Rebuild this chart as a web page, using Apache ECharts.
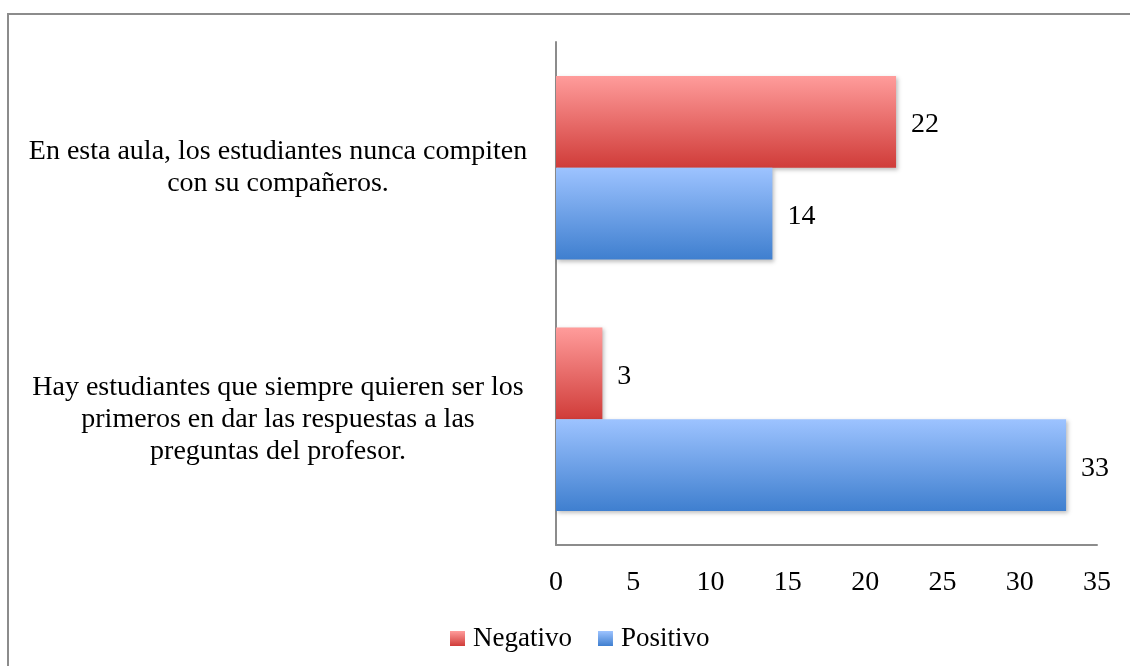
<!DOCTYPE html>
<html>
<head>
<meta charset="utf-8">
<script src="https://cdn.jsdelivr.net/npm/echarts@6/dist/echarts.min.js"></script>
<style>
  html, body { margin: 0; padding: 0; background: #fff; }
  #chart { width: 1130px; height: 666px; }
</style>
</head>
<body>
<div id="chart"></div>
<script>
// categories, bottom to top
const categories = [
    'Hay estudiantes que siempre quieren ser los\nprimeros en dar las respuestas a las\npreguntas del profesor.',
    'En esta aula, los estudiantes nunca compiten\ncon su compañeros.'
];
const seriesNames = ['Negativo', 'Positivo'];
const negativo = [3, 22];
const positivo = [33, 14];

const FONT = '"Liberation Serif", serif';

function grad(top, bottom) {
    return new echarts.graphic.LinearGradient(0, 0, 0, 1, [
        { offset: 0, color: top },
        { offset: 1, color: bottom }
    ]);
}

const chart = echarts.init(document.getElementById('chart'));

const barStyle = {
    shadowColor: 'rgba(0,0,0,0.25)',
    shadowBlur: 4,
    shadowOffsetX: 2,
    shadowOffsetY: 2
};

const valueLabel = {
    show: true, position: 'right', distance: 15, offset: [0, 3],
    fontFamily: FONT, fontSize: 28, color: '#000'
};

const option = {
    animation: false,
    backgroundColor: '#fff',
    textStyle: { fontFamily: FONT, color: '#000' },
    graphic: [{
        type: 'rect',
        shape: { x: 8, y: 14, width: 1200, height: 800 },
        style: { fill: 'none', stroke: '#8c8c8c', lineWidth: 2 }
    }],
    grid: { left: 556, right: 33, top: 42, bottom: 121 },
    legend: {
        data: seriesNames,
        left: 445,
        top: 620,
        icon: 'rect',
        itemWidth: 15,
        itemHeight: 15,
        itemGap: 26,
        textStyle: { fontFamily: FONT, fontSize: 27, color: '#000', padding: [0, 0, 0, 3] }
    },
    xAxis: {
        type: 'value',
        min: 0,
        max: 35,
        interval: 5,
        splitLine: { show: false },
        axisLine: { show: true, lineStyle: { color: '#8c8c8c', width: 2 } },
        axisTick: { show: false },
        axisLabel: { fontFamily: FONT, fontSize: 28, color: '#000', margin: 24 }
    },
    yAxis: {
        type: 'category',
        data: categories,
        axisLine: { show: true, lineStyle: { color: '#8c8c8c', width: 2 } },
        axisTick: { show: false },
        axisLabel: {
            fontFamily: FONT,
            fontSize: 28,
            lineHeight: 32,
            color: '#000',
            align: 'center',
            margin: 278
        }
    },
    series: [
        {
            name: 'Negativo',
            type: 'bar',
            data: negativo,
            barGap: '0%',
            barCategoryGap: '27%',
            itemStyle: Object.assign({ color: grad('#ff9c9b', '#d03c39') }, barStyle),
            label: valueLabel
        },
        {
            name: 'Positivo',
            type: 'bar',
            data: positivo,
            barGap: '0%',
            barCategoryGap: '27%',
            itemStyle: Object.assign({ color: grad('#9dc3ff', '#3f7fcf') }, barStyle),
            label: valueLabel
        }
    ]
};

chart.setOption(option);
</script>
</body>
</html>
